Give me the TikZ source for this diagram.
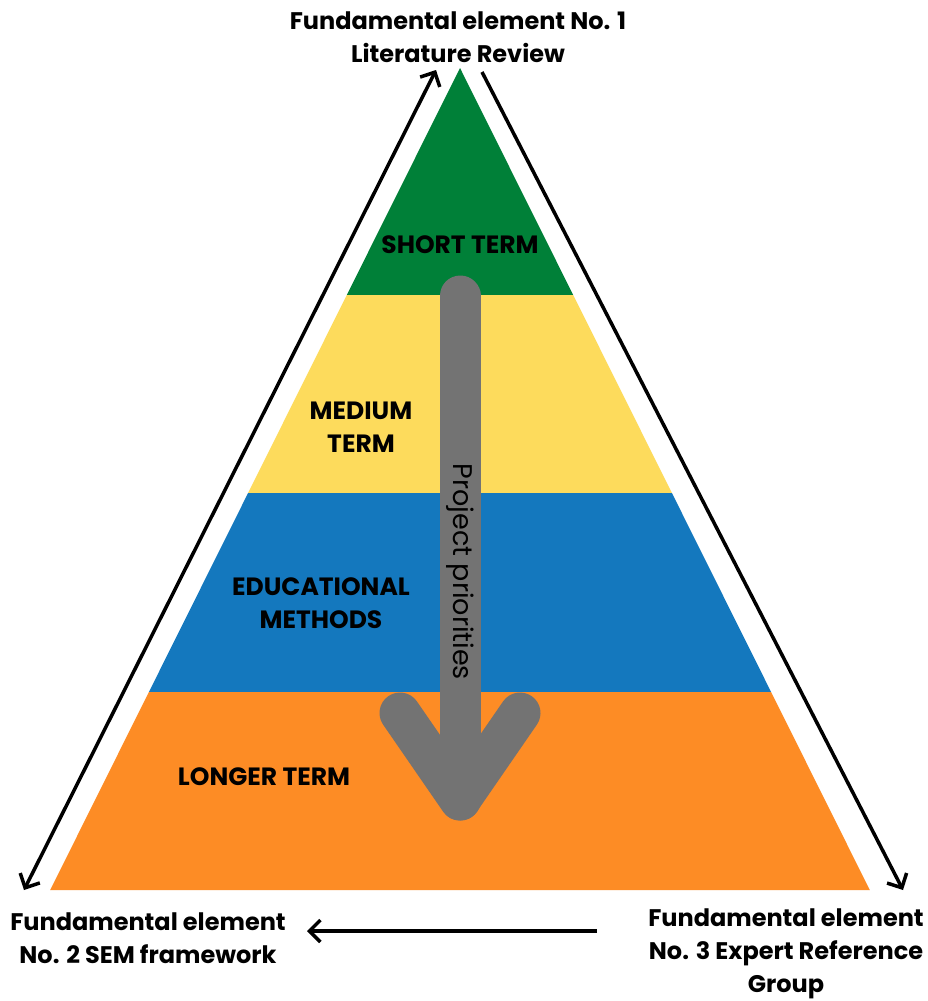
\documentclass[tikz,border=0pt]{standalone}
\usepackage{fontspec}
\setmainfont{Poppins}
\usetikzlibrary{arrows.meta}
\definecolor{bandgreen}{RGB}{0,128,56}
\definecolor{bandyellow}{RGB}{253,219,92}
\definecolor{bandblue}{RGB}{20,120,190}
\definecolor{bandorange}{RGB}{253,140,37}
\definecolor{arrowgray}{RGB}{115,115,115}
\tikzset{elbarb/.tip={Straight Barb[length=11pt,width=22pt]}}
\begin{document}
\begin{tikzpicture}[x=1pt,y=-1pt,
  heading/.style={font=\fontsize{24}{33}\selectfont\bfseries, align=center, text=black, inner sep=0pt},
  bandlabel/.style={font=\fontsize{25}{33}\selectfont\bfseries, align=center, text=black, inner sep=0pt},
  sideline/.style={line width=3.5pt, black},
  bigarrow/.style={line width=41pt, arrowgray, line cap=round, line join=round}]
\useasboundingbox (0,0) rectangle (928,1001);
\fill[white] (0,0) rectangle (928,1001);

% pyramid bands, apex (460,68), base y=890
\fill[bandgreen]  (460,68) -- (573.2,295) -- (346.8,295) -- cycle;
\fill[bandyellow] (346.8,295) -- (573.2,295) -- (671.9,493) -- (248.1,493) -- cycle;
\fill[bandblue]   (248.1,493) -- (671.9,493) -- (771.1,692) -- (148.9,692) -- cycle;
\fill[bandorange] (148.9,692) -- (771.1,692) -- (869.8,890) -- (50.2,890) -- cycle;

% band labels
\node[bandlabel] (short)  at (460,245) {SHORT TERM};
\node[bandlabel] (medium) at (361,427) {MEDIUM\\TERM};
\node[bandlabel] (edu)    at (321,603) {EDUCATIONAL\\METHODS};
\node[bandlabel] (longer) at (264,777) {LONGER TERM};

% priority arrow
\coordinate (shafttop) at (460,296);
\coordinate (tip) at (460,800);
\coordinate (armL) at (400,713);
\coordinate (armR) at (520,713);
\draw[bigarrow] (shafttop) -- (tip);
\draw[bigarrow] (armL) -- (tip) -- (armR);
\node[rotate=-90, font=\fontsize{27}{32}\selectfont, text=black, inner sep=0pt] (prio) at (460,572) {Project priorities};

% headings
\node[heading] (el1) at (458,37) {Fundamental element No. 1\\Literature Review};
\node[heading] (el2) at (148,938) {Fundamental element\\No. 2 SEM framework};
\node[heading] (el3) at (786,954) {Fundamental element\\No. 3 Expert Reference\\Group};

% connectors between the fundamental elements
\coordinate (leftTop) at (436,70);
\coordinate (leftBot) at (24,890);
\coordinate (rightTop) at (482,72);
\coordinate (rightBot) at (903,890);
\coordinate (botR) at (597,931);
\coordinate (botL) at (307,931);
\draw[sideline, elbarb-elbarb] (leftBot) -- (leftTop);
\draw[sideline, -elbarb] (rightTop) -- (rightBot);
\draw[sideline, -elbarb] (botR) -- (botL);
\end{tikzpicture}
\end{document}
